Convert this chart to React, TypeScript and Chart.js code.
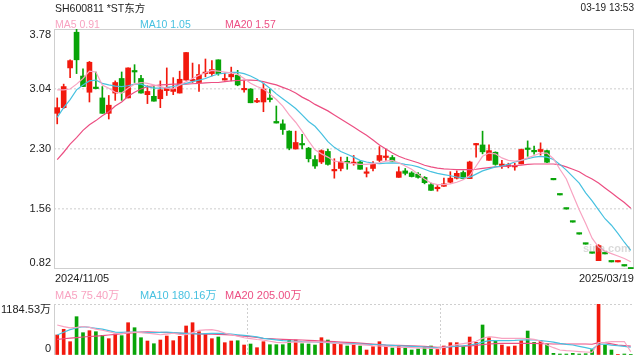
import React, { useEffect, useRef } from "react";
import { Chart, registerables } from "chart.js";
Chart.register(...registerables);

const title = "SH600811 *ST东方";
const timeStamp = "03-19 13:53";

const dates = [
  "2024/11/05","2024/11/06","2024/11/07","2024/11/08","2024/11/11","2024/11/12","2024/11/13","2024/11/14","2024/11/15","2024/11/18",
  "2024/11/19","2024/11/20","2024/11/21","2024/11/22","2024/11/25","2024/11/26","2024/11/27","2024/11/28","2024/11/29","2024/12/02",
  "2024/12/03","2024/12/04","2024/12/05","2024/12/06","2024/12/09","2024/12/10","2024/12/11","2024/12/12","2024/12/13","2024/12/16",
  "2024/12/17","2024/12/18","2024/12/19","2024/12/20","2024/12/23","2024/12/24","2024/12/25","2024/12/26","2024/12/27","2024/12/30",
  "2024/12/31","2025/01/02","2025/01/03","2025/01/06","2025/01/07","2025/01/08","2025/01/09","2025/01/10","2025/01/13","2025/01/14",
  "2025/01/15","2025/01/16","2025/01/17","2025/01/20","2025/01/21","2025/01/22","2025/01/23","2025/01/24","2025/01/27","2025/02/05",
  "2025/02/06","2025/02/07","2025/02/10","2025/02/11","2025/02/12","2025/02/13","2025/02/14","2025/02/17","2025/02/18","2025/02/19",
  "2025/02/20","2025/02/21","2025/02/24","2025/02/25","2025/02/26","2025/02/27","2025/02/28","2025/03/03","2025/03/04","2025/03/05",
  "2025/03/06","2025/03/07","2025/03/10","2025/03/11","2025/03/12","2025/03/13","2025/03/14","2025/03/17","2025/03/18","2025/03/19",
];

const openP = [
  2.74,2.81,3.30,3.74,3.20,3.00,3.05,2.93,2.74,2.99,
  3.17,2.93,3.26,3.17,2.97,2.95,2.92,3.02,3.01,2.99,
  3.15,3.14,3.12,3.23,3.23,3.40,3.15,3.19,3.21,3.03,
  3.04,2.88,2.88,2.92,2.64,2.61,2.52,2.30,2.36,2.31,
  2.17,2.14,2.27,2.03,2.06,2.14,2.12,2.14,2.00,2.06,
  2.16,2.195,2.195,1.95,2.03,2.005,1.99,1.95,1.86,1.81,
  1.84,1.89,1.94,2.01,1.935,2.35,2.35,2.16,2.26,2.096,
  2.087,2.079,2.116,2.30,2.273,2.269,2.28,1.92,1.733,1.559,
  1.398,1.25,1.126,1.014,0.923,1.006,0.907,0.907,0.857,0.82,
];
const highP = [
  2.93,3.10,3.40,3.78,3.29,3.38,3.25,3.07,2.96,3.14,
  3.25,3.30,3.34,3.21,3.08,3.07,3.14,3.30,3.18,3.26,
  3.49,3.36,3.34,3.41,3.39,3.40,3.235,3.31,3.27,3.14,
  3.045,2.925,3.11,3.04,2.83,2.66,2.525,2.52,2.48,2.32,
  2.22,2.29,2.30,2.18,2.20,2.20,2.22,2.15,2.07,2.145,
  2.33,2.30,2.22,2.08,2.06,2.02,2.01,1.96,1.88,1.85,
  1.94,2.02,2.03,2.03,2.15,2.37,2.52,2.35,2.265,2.16,
  2.125,2.125,2.30,2.40,2.335,2.376,2.286,1.92,1.733,1.559,
  1.398,1.25,1.126,1.014,1.121,1.006,0.907,0.907,0.857,0.82,
];
const lowP = [
  2.61,2.80,3.18,3.23,3.07,2.88,3.04,2.74,2.67,2.90,
  2.90,2.93,3.12,2.99,2.86,2.89,2.81,2.96,2.97,2.99,
  3.15,3.12,3.01,3.19,3.20,3.21,3.15,3.14,3.08,3.00,
  2.87,2.87,2.76,2.88,2.62,2.48,2.29,2.30,2.30,2.14,
  2.06,2.12,2.10,1.94,2.03,2.05,2.10,2.05,1.955,2.03,
  2.145,2.16,2.15,1.95,1.98,1.955,1.94,1.87,1.79,1.78,
  1.84,1.88,1.93,1.93,1.935,2.20,2.24,2.16,2.10,2.06,
  2.067,2.038,2.116,2.21,2.236,2.224,2.13,1.92,1.733,1.559,
  1.398,1.25,1.126,1.014,0.923,1.006,0.907,0.907,0.857,0.82,
];
const closeP = [
  2.81,3.07,3.39,3.40,3.07,3.37,3.045,2.74,2.84,3.12,
  3.00,3.30,3.25,2.99,3.01,2.89,3.03,3.06,3.04,3.16,
  3.49,3.15,3.22,3.235,3.28,3.23,3.17,3.22,3.09,3.04,
  2.87,2.89,3.04,2.91,2.62,2.54,2.31,2.38,2.35,2.18,
  2.09,2.28,2.11,2.04,2.14,2.13,2.125,2.05,2.01,2.11,
  2.22,2.20,2.15,2.02,2.00,1.96,1.95,1.885,1.79,1.82,
  1.87,1.94,2.00,1.935,2.14,2.36,2.265,2.28,2.11,2.104,
  2.096,2.087,2.294,2.294,2.265,2.294,2.137,1.92,1.733,1.559,
  1.398,1.25,1.126,1.014,1.109,1.006,0.907,0.907,0.857,0.82,
];

const ma5 = [
  3.03,3.03,3.04,3.10,3.17,3.26,3.25,3.09,3.05,3.00,
  2.99,3.05,3.10,3.12,3.11,3.09,3.07,3.05,3.04,3.09,
  3.13,3.17,3.21,3.24,3.27,3.26,3.25,3.24,3.22,3.17,
  3.11,3.07,3.04,2.98,2.91,2.83,2.72,2.63,2.52,2.40,
  2.29,2.24,2.20,2.15,2.14,2.13,2.12,2.11,2.11,2.12,
  2.13,2.15,2.16,2.13,2.09,2.05,1.99,1.93,1.88,1.86,
  1.86,1.87,1.89,1.92,1.97,2.09,2.21,2.25,2.24,2.19,
  2.16,2.15,2.16,2.19,2.22,2.25,2.25,2.18,2.05,1.93,
  1.74,1.55,1.38,1.20,1.09,1.04,1.01,0.98,0.95,0.91,
];
const ma10 = [
  2.69,2.81,2.91,3.03,3.09,3.14,3.15,3.11,3.09,3.075,
  3.07,3.08,3.10,3.10,3.07,3.05,3.05,3.06,3.07,3.09,
  3.11,3.13,3.15,3.17,3.20,3.225,3.235,3.245,3.245,3.23,
  3.20,3.16,3.11,3.05,2.98,2.92,2.86,2.80,2.72,2.64,
  2.58,2.49,2.39,2.32,2.27,2.235,2.20,2.16,2.14,2.125,
  2.12,2.125,2.13,2.125,2.11,2.10,2.08,2.05,2.02,2.00,
  1.985,1.97,1.955,1.945,1.95,1.99,2.03,2.055,2.08,2.09,
  2.11,2.14,2.16,2.18,2.20,2.21,2.20,2.17,2.11,2.04,
  1.96,1.88,1.76,1.66,1.55,1.44,1.36,1.26,1.15,1.05,
];
const ma20 = [
  2.17,2.26,2.36,2.44,2.53,2.60,2.65,2.71,2.76,2.83,
  2.88,2.95,3.00,3.04,3.07,3.08,3.09,3.095,3.10,3.10,
  3.10,3.105,3.11,3.115,3.12,3.12,3.13,3.14,3.145,3.15,
  3.15,3.145,3.13,3.11,3.09,3.06,3.03,2.99,2.94,2.90,
  2.85,2.81,2.77,2.72,2.67,2.62,2.57,2.52,2.47,2.41,
  2.35,2.30,2.25,2.21,2.18,2.155,2.13,2.10,2.08,2.065,
  2.055,2.05,2.045,2.045,2.045,2.05,2.06,2.07,2.08,2.085,
  2.09,2.095,2.10,2.11,2.115,2.115,2.115,2.115,2.105,2.08,
  2.05,2.02,1.97,1.93,1.88,1.82,1.76,1.70,1.64,1.57,
];

const volume = [
  465,597,309,890,518,565,541,457,379,488,
  449,750,634,402,325,262,348,441,332,434,
  674,750,541,488,379,418,286,325,332,232,
  255,170,309,239,239,239,348,348,262,255,
  232,402,348,255,255,209,232,209,116,193,
  309,209,163,209,163,116,139,178,209,128,
  209,286,286,193,418,294,697,402,332,232,
  193,209,332,557,294,332,255,39,23,23,
  39,23,30,125,1184.53,232,116,15,23,8,
];
const volMa5 = [
  697,660,630,640,662,640,600,575,540,505,
  495,520,530,520,505,490,470,485,505,480,
  470,520,570,585,590,560,510,470,440,400,
  380,360,345,320,295,285,295,305,300,305,
  310,300,290,275,265,256,250,240,228,215,
  209,200,192,185,178,170,165,160,155,158,
  175,209,240,265,286,320,387,426,410,387,
  385,387,387,380,364,320,232,170,116,100,
  93,80,70,60,290,295,310,312,314,75,
];
const volMa10 = [
  464,530,590,630,657,640,620,600,565,530,
  525,530,530,525,519,520,525,534,520,510,
  503,495,488,495,503,500,495,488,470,455,
  441,420,387,370,350,333,325,318,310,306,
  302,295,288,280,272,266,263,256,250,244,
  238,232,225,215,208,200,193,185,175,170,
  175,193,205,215,232,260,300,333,335,333,
  336,340,348,350,348,335,320,300,270,245,
  232,200,170,135,250,250,230,215,200,180,
];
const volMa20 = [
  364,377,390,404,418,430,440,450,465,480,
  493,507,520,530,540,533,526,519,514,508,
  503,495,488,485,482,480,475,465,452,439,
  426,406,387,380,372,364,358,353,348,340,
  333,325,317,309,301,293,286,275,264,253,
  242,232,227,223,218,214,209,199,188,178,
  185,192,198,204,209,225,240,255,263,271,
  271,271,271,271,271,266,261,256,256,256,
  256,256,256,250,286,286,260,232,218,205,
];

const priceTicks = [3.78, 3.04, 2.30, 1.56, 0.82];
const volTicks = [0, 1184.53];
const priceLegend = ["MA5 0.91", "MA10 1.05", "MA20 1.57"];
const volLegend = ["MA5 75.40万", "MA10 180.16万", "MA20 205.00万"];

const RED = "#f2190d";
const GREEN = "#08a408";
const C5 = "#f8a3c1";
const C10 = "#47c1e0";
const C20 = "#ec4f83";
const FONT = '"Liberation Sans", Arial, "Noto Sans CJK SC", sans-serif';

const isUp = closeP.map((c, i) => c > openP[i] || (c === openP[i] && (i === 0 || c >= closeP[i - 1])));
const candleColors = isUp.map((u) => (u ? RED : GREEN));

function labelPlugin(fmt: (v: number) => string) {
  return {
    id: "ylabels",
    afterDraw(chart: any) {
      const s = chart.scales.y;
      const { ctx, chartArea } = chart;
      ctx.save();
      ctx.font = "11px " + FONT;
      ctx.fillStyle = "#222";
      ctx.textAlign = "right";
      ctx.textBaseline = "middle";
      s.ticks.forEach((t: any) => {
        let y = s.getPixelForValue(t.value);
        y = Math.min(Math.max(y, chartArea.top + 6), chartArea.bottom - 6);
        ctx.fillText(fmt(t.value), chartArea.left - 3, y);
      });
      ctx.restore();
    },
  };
}

const frameMain = {
  id: "frameMain",
  beforeDatasetsDraw(chart: any) {
    const { ctx, chartArea: a } = chart;
    ctx.save();
    ctx.strokeStyle = "#cfcfcf";
    ctx.lineWidth = 1;
    ctx.strokeRect(a.left + 0.5, a.top + 0.5, a.right - a.left - 1, a.bottom - a.top - 1);
    ctx.restore();
  },
};

const frameVol = {
  id: "frameVol",
  beforeDatasetsDraw(chart: any) {
    const { ctx, chartArea: a } = chart;
    ctx.save();
    ctx.strokeStyle = "#cfcfcf";
    ctx.lineWidth = 1;
    ctx.beginPath();
    ctx.moveTo(a.left + 0.5, a.top);
    ctx.lineTo(a.left + 0.5, a.bottom);
    ctx.stroke();
    ctx.restore();
  },
};

function lineDs(label: string, data: number[], color: string) {
  return {
    type: "line" as const,
    label,
    data,
    borderColor: color,
    borderWidth: 1.2,
    pointRadius: 0,
    tension: 0,
    fill: false,
    order: 0,
  };
}

export default function App() {
  const mainRef = useRef<HTMLCanvasElement>(null);
  const volRef = useRef<HTMLCanvasElement>(null);

  useEffect(() => {
    const main = new Chart(mainRef.current!, {
      type: "bar",
      data: {
        labels: dates,
        datasets: [
          {
            type: "bar",
            label: "wick",
            data: lowP.map((l, i) => [l, highP[i]]) as any,
            backgroundColor: candleColors,
            barThickness: 1,
            minBarLength: 1,
            grouped: false,
            order: 2,
          },
          {
            type: "bar",
            label: "body",
            data: openP.map((o, i) => [o, closeP[i]]) as any,
            backgroundColor: candleColors,
            barThickness: 5,
            minBarLength: 1.5,
            grouped: false,
            order: 1,
          },
          lineDs("MA5", ma5, C5),
          lineDs("MA10", ma10, C10),
          lineDs("MA20", ma20, C20),
        ] as any,
      },
      options: {
        responsive: false,
        devicePixelRatio: 1,
        animation: false,
        layout: { padding: { left: 54, right: 6, top: 29, bottom: 21 } },
        plugins: { legend: { display: false }, tooltip: { enabled: false } },
        scales: {
          x: {
            display: true,
            ticks: { display: false },
            grid: { display: false, drawTicks: false },
            border: { display: false },
          },
          y: {
            min: 0.82,
            max: 3.78,
            display: true,
            afterBuildTicks: (axis: any) => {
              axis.ticks = priceTicks.map((v) => ({ value: v }));
            },
            ticks: { display: false },
            grid: {
              drawTicks: false,
              lineWidth: 1.5,
              color: (c: any) =>
                c.tick && (c.tick.value === 3.78 || c.tick.value === 0.82) ? "rgba(0,0,0,0)" : "#dedede",
            },
            border: { display: false, dash: [2, 2] },
          },
        },
      } as any,
      plugins: [frameMain, labelPlugin((v) => v.toFixed(2))],
    });

    const vol = new Chart(volRef.current!, {
      type: "bar",
      data: {
        labels: dates,
        datasets: [
          {
            type: "bar",
            label: "vol",
            data: volume,
            backgroundColor: candleColors,
            barThickness: 3,
            grouped: false,
            order: 1,
          },
          lineDs("MA5", volMa5, C5),
          lineDs("MA10", volMa10, C10),
          lineDs("MA20", volMa20, C20),
        ] as any,
      },
      options: {
        responsive: false,
        devicePixelRatio: 1,
        animation: false,
        layout: { padding: { left: 54, right: 6, top: 14, bottom: 5 } },
        plugins: { legend: { display: false }, tooltip: { enabled: false } },
        scales: {
          x: {
            display: true,
            ticks: { display: false },
            grid: {
              offset: true,
              drawTicks: false,
              lineWidth: 1,
              color: (c: any) =>
                c.index === 30 || c.index === 60 || c.index === 90 ? "#cfcfcf" : "rgba(0,0,0,0)",
            },
            border: { display: false, dash: [2, 2] },
          },
          y: {
            min: 0,
            max: 1184.53,
            display: true,
            afterBuildTicks: (axis: any) => {
              axis.ticks = volTicks.map((v) => ({ value: v }));
            },
            ticks: { display: false },
            grid: {
              drawTicks: false,
              lineWidth: 1,
              color: (c: any) => (c.tick && c.tick.value > 0 ? "#cfcfcf" : "rgba(0,0,0,0)"),
            },
            border: { display: false, dash: [2, 2] },
          },
        },
      } as any,
      plugins: [frameVol, labelPlugin((v) => (v === 0 ? "0" : v.toFixed(2) + "万"))],
    });

    return () => {
      main.destroy();
      vol.destroy();
    };
  }, []);

  const txt = (extra: React.CSSProperties): React.CSSProperties => ({
    position: "absolute",
    fontFamily: FONT,
    fontSize: 11,
    lineHeight: "16px",
    whiteSpace: "nowrap",
    color: "#222",
    ...extra,
  });

  return (
    <div style={{ position: "fixed", left: 0, top: 0, width: 640, height: 360, background: "#fff", overflow: "hidden" }}>
      <canvas ref={mainRef} width={640} height={290} style={{ position: "absolute", left: 0, top: 0 }} />
      <canvas ref={volRef} width={640} height={70} style={{ position: "absolute", left: 0, top: 290 }} />
      <div style={txt({ left: 55, top: 0, fontSize: 10.5 })}>{title}</div>
      <div style={txt({ right: 6, top: 0, fontSize: 10 })}>{timeStamp}</div>
      <div style={txt({ left: 55, top: 15.5, color: C5, fontSize: 10.5 })}>{priceLegend[0]}</div>
      <div style={txt({ left: 140, top: 15.5, color: C10, fontSize: 10.5 })}>{priceLegend[1]}</div>
      <div style={txt({ left: 225, top: 15.5, color: C20, fontSize: 10.5 })}>{priceLegend[2]}</div>
      <div style={txt({ left: 55, top: 269.5 })}>{dates[0]}</div>
      <div style={txt({ right: 6, top: 269.5 })}>{dates[dates.length - 1]}</div>
      <div style={txt({ left: 55, top: 287, color: C5 })}>{volLegend[0]}</div>
      <div style={txt({ left: 140, top: 287, color: C10 })}>{volLegend[1]}</div>
      <div style={txt({ left: 225, top: 287, color: C20 })}>{volLegend[2]}</div>
      <div style={txt({ left: 583, top: 240, color: "rgba(150,150,150,0.35)", fontSize: 11, fontWeight: "bold" })}>sina.com</div>
    </div>
  );
}
